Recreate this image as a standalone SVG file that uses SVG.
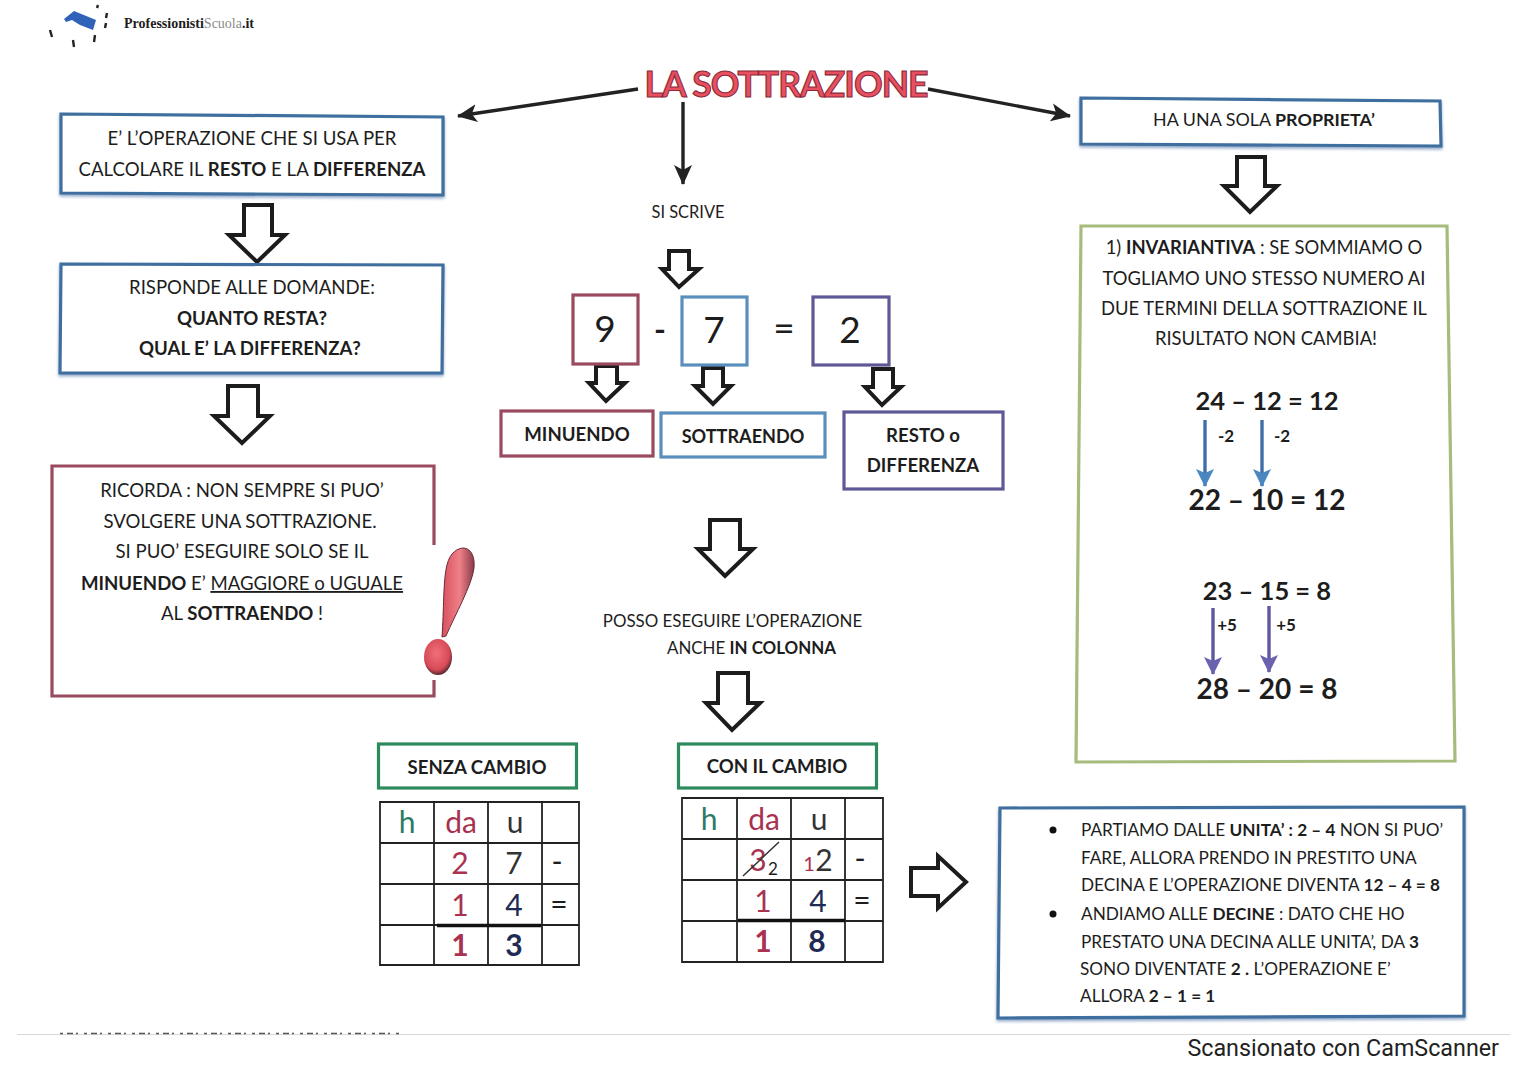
<svg xmlns="http://www.w3.org/2000/svg" width="1528" height="1080" viewBox="0 0 1528 1080">
<style>
text{font-family:Lato,"Open Sans",sans-serif;fill:#1d1d1d;font-size:18.6px;text-anchor:middle}
.l{text-anchor:start}
.b,tspan.b{font-weight:700}
.box{fill:#fff;stroke-width:3.2;stroke-linejoin:miter}
.blue{stroke:#3f6f9f;filter:drop-shadow(0 2px 1.5px rgba(60,100,160,.55))}.red{stroke:#9a4a5e}.green{stroke:#2c8a5c}.olive{stroke:#a6bb7c}.mb{stroke:#5a8fbd}.pur{stroke:#5f5896}
.hol{fill:#fff;stroke:#1c1c1c;stroke-width:4;stroke-linejoin:miter}
.grid{fill:none;stroke:#222;stroke-width:1.8}
.d{font-size:30px}.dr{fill:#a8324f}.dn{fill:#1f2a55}.dg{fill:#2d7a68}.dk{fill:#333}
.eq{font-size:25.5px;font-weight:700}
.eq2{font-size:28px;font-weight:700}
.sm{font-size:17px;font-weight:700}
.big{font-size:37px}
.t17{font-size:17.2px}
.con{fill:none;stroke:#222;stroke-width:3.4}
</style>
<defs>
<marker id="ah" markerUnits="userSpaceOnUse" markerWidth="22" markerHeight="20" refX="19" refY="10" orient="auto"><path d="M0 1L20 10L0 19L5 10Z" fill="#222"/></marker>
<marker id="ahb" markerUnits="userSpaceOnUse" markerWidth="20" markerHeight="24" refX="17" refY="10" orient="auto"><path d="M0 1L18 10L0 19L4 10Z" fill="#4a86c0"/></marker>
<marker id="ahp" markerUnits="userSpaceOnUse" markerWidth="20" markerHeight="24" refX="17" refY="10" orient="auto"><path d="M0 1L18 10L0 19L4 10Z" fill="#6a62ae"/></marker>
<linearGradient id="ex" x1="0" y1="0" x2="1" y2="0"><stop offset="0" stop-color="#d8505f"/><stop offset=".55" stop-color="#ee8088"/><stop offset="1" stop-color="#8a3a48"/></linearGradient>
<radialGradient id="ex2" cx=".45" cy=".4" r=".6"><stop offset="0" stop-color="#f07078"/><stop offset=".75" stop-color="#d84a58"/><stop offset="1" stop-color="#5a2a30"/></radialGradient>
</defs>
<rect width="1528" height="1080" fill="#fff"/>

<g id="logo">
<path d="M64 19L74 11L96 20L93 30L80 25L72 20L66 22Z" fill="#2f62b8"/>
<path d="M50 30l2 7M73 40l1 7M95 35l-1 7M107 13l-1 5M106 23l-1 5M98 5l-1 3" stroke="#222" stroke-width="2.4" fill="none"/>
<text x="124" y="28" class="l" style="font-family:'Liberation Serif',serif;font-size:14px;font-weight:700">Professionisti<tspan fill="#8a8a8a" font-weight="400">Scuola</tspan>.it</text>
</g>

<g id="title">
<text x="786" y="97" style="font-size:35.6px;font-weight:700;fill:#e8505f;stroke:#8a2a3a;stroke-width:1.1;letter-spacing:-1px">LA SOTTRAZIONE</text>
</g>

<g id="connectors">
<path class="con" d="M638 89L458 116" marker-end="url(#ah)"/>
<path class="con" d="M683 102V184" marker-end="url(#ah)"/>
<path class="con" d="M928 89L1070 116" marker-end="url(#ah)"/>
<path class="hol" d="M244 205H272V235H285L257 262L229 235H244Z"/>
<path class="hol" d="M228 386H258V416H270L242 443L214 416H228Z"/>
<path class="hol" d="M1237 157H1265V186H1277L1250 212L1224 186H1237Z"/>
<path class="hol" d="M669 251H689V269H699L679 287L662 269H669Z"/>
<path class="hol" d="M596 366H617V383H625L606 401L589 383H596Z"/>
<path class="hol" d="M703 368H723V386H731L713 404L695 386H703Z"/>
<path class="hol" d="M873 369H893V387H901L882 405L865 387H873Z"/>
<path class="hol" d="M710 520H740V549H753L725 576L698 549H710Z"/>
<path class="hol" d="M718 673H748V703H760L732 730L706 703H718Z"/>
<path class="hol" d="M911 868H938V856L966 882L938 908V896H911Z"/>
</g>

<g id="def">
<path class="box blue" d="M61 114L443 117V195L61 193Z"/>
<text x="252" y="145">E’ L’OPERAZIONE CHE SI USA PER</text>
<text x="252" y="176">CALCOLARE IL <tspan class="b">RESTO</tspan> E LA <tspan class="b">DIFFERENZA</tspan></text>
</g>
<g id="domande">
<path class="box blue" d="M61 264L443 265L442 373L60 373Z"/>
<text x="252" y="294">RISPONDE ALLE DOMANDE:</text>
<text x="252" y="325" class="b">QUANTO RESTA?</text>
<text x="250" y="355" class="b">QUAL E’ LA DIFFERENZA?</text>
</g>
<g id="ricorda">
<path class="box red" style="fill:none" d="M434 545V466H52V696H434V680"/>
<text x="242" y="497">RICORDA : NON SEMPRE SI PUO’</text>
<text x="240" y="528">SVOLGERE UNA SOTTRAZIONE.</text>
<text x="242" y="558">SI PUO’ ESEGUIRE SOLO SE IL</text>
<text x="242" y="590"><tspan class="b">MINUENDO</tspan> E’ <tspan text-decoration="underline">MAGGIORE o UGUALE</tspan></text>
<text x="242" y="620">AL <tspan class="b">SOTTRAENDO</tspan> !</text>
<path d="M442 637C444 610 443 580 447 565C450 552 458 548 464 548C472 549 475 558 474 568C472 585 455 615 446 636Z" fill="url(#ex)" stroke="#6a2a36" stroke-width="1"/>
<ellipse cx="438" cy="657" rx="14" ry="18" fill="url(#ex2)"/>
</g>

<g id="si-scrive"><text x="688" y="218" style="font-size:16.4px">SI SCRIVE</text></g>

<g id="n9"><rect class="box red" x="573" y="295" width="65" height="69"/><text x="605" y="342" class="big">9</text></g>
<text x="660" y="341" class="big" style="font-weight:700;font-size:32px">-</text>
<g id="n7"><rect class="box mb" x="682" y="297" width="65" height="68"/><text x="714" y="343" class="big">7</text></g>
<text x="784" y="341" class="big">=</text>
<g id="n2"><rect class="box pur" x="813" y="297" width="76" height="68"/><text x="850" y="343" class="big">2</text></g>

<g id="minuendo"><rect class="box red" x="501" y="411" width="152" height="45"/><text x="577" y="441" class="b">MINUENDO</text></g>
<g id="sottraendo"><rect class="box mb" x="661" y="413" width="164" height="44"/><text x="743" y="443" class="b" style="font-size:18.1px">SOTTRAENDO</text></g>
<g id="resto"><rect class="box pur" x="844" y="412" width="159" height="77"/><text x="923" y="442" class="b">RESTO o</text><text x="923" y="472" class="b">DIFFERENZA</text></g>

<g id="colonna">
<text x="732.500" y="627" style="font-size:16.9px">POSSO ESEGUIRE L’OPERAZIONE</text>
<text x="751.500" y="654" style="font-size:16.9px">ANCHE <tspan class="b">IN COLONNA</tspan></text>
</g>

<g id="senza"><rect class="box green" x="378.500" y="744" width="198" height="44"/><text x="477" y="774" class="b">SENZA CAMBIO</text></g>
<g id="con"><rect class="box green" x="678.500" y="744" width="198" height="44"/><text x="777" y="773" class="b">CON IL CAMBIO</text></g>

<g id="tabella1">
<path class="grid" d="M380 802H579V965H380ZM434 802V965M488 802V965M542 802V965M380 843H579M380 884H579M380 925H579"/>
<path d="M437 925.500H541" stroke="#111" stroke-width="3.500"/>
<text x="407" y="833" class="d dg">h</text><text x="461" y="833" class="d dr">da</text><text x="515" y="833" class="d dk">u</text>
<text x="460" y="874" class="d dr">2</text><text x="514" y="874" class="d dk">7</text><text x="557" y="872" class="d">-</text>
<text x="460" y="916" class="d dr">1</text><text x="514" y="916" class="d dn">4</text><text x="559" y="915" class="d">=</text>
<text x="460" y="956" class="d dr b">1</text><text x="514" y="956" class="d dn b">3</text>
</g>
<g id="tabella2">
<path class="grid" d="M682 798H883V962H682ZM737 798V962M791 798V962M845 798V962M682 839H883M682 880H883M682 921H883"/>
<path d="M738 920.500H845" stroke="#111" stroke-width="3.500"/>
<text x="709" y="830" class="d dg">h</text><text x="764" y="830" class="d dr">da</text><text x="819" y="830" class="d dk">u</text>
<text x="758" y="871" class="d dr">3</text><text x="773" y="875" style="font-size:17px">2</text>
<path d="M743 876L779 842" stroke="#333" stroke-width="1.500"/>
<text x="809" y="871" style="font-size:20px" class="dr">1</text><text x="824" y="871" class="d dk">2</text><text x="860" y="869" class="d">-</text>
<text x="763" y="912" class="d dr">1</text><text x="818" y="912" class="d dn">4</text><text x="862" y="911" class="d">=</text>
<text x="763" y="952" class="d dr b">1</text><text x="817" y="952" class="d dn b">8</text>
</g>

<g id="proprieta">
<path class="box blue" d="M1081 98L1440 101L1441 146L1081 144Z"/>
<text x="1264" y="126" style="font-size:17.9px">HA UNA SOLA <tspan class="b">PROPRIETA’</tspan></text>
</g>
<g id="invariantiva">
<path class="box olive" d="M1081 226H1447L1455 761L1076 762Z"/>
<text x="1264" y="254" style="font-size:18.4px">1) <tspan class="b">INVARIANTIVA</tspan> : SE SOMMIAMO O</text>
<text x="1264" y="285" style="font-size:18.4px">TOGLIAMO UNO STESSO NUMERO AI</text>
<text x="1264" y="315" style="font-size:18.4px">DUE TERMINI DELLA SOTTRAZIONE IL</text>
<text x="1266" y="345" style="font-size:18.4px">RISULTATO NON CAMBIA!</text>
<text x="1267" y="410" class="eq">24 – 12 = 12</text>
<text x="1226" y="442" class="sm">-2</text><text x="1282" y="442" class="sm">-2</text>
<text x="1267" y="510" class="eq2">22 – 10 = 12</text>
<text x="1267" y="600" class="eq">23 – 15 = 8</text>
<text x="1227" y="631" class="sm">+5</text><text x="1286" y="631" class="sm">+5</text>
<text x="1267" y="699" class="eq2">28 – 20 = 8</text>
</g>
<g id="math-connectors">
<path d="M1205 420V486" stroke="#3f6fa8" stroke-width="3.400" fill="none" marker-end="url(#ahb)"/>
<path d="M1262 420V486" stroke="#3f6fa8" stroke-width="3.400" fill="none" marker-end="url(#ahb)"/>
<path d="M1213 608V674" stroke="#5f58a0" stroke-width="3.400" fill="none" marker-end="url(#ahp)"/>
<path d="M1269 606V672" stroke="#5f58a0" stroke-width="3.400" fill="none" marker-end="url(#ahp)"/>
</g>

<g id="spiegazione">
<path class="box blue" d="M1000 808L1464 807V1016L998 1018Z"/>
<circle cx="1053" cy="830" r="3.500" fill="#111"/><circle cx="1053" cy="914" r="3.500" fill="#111"/>
<text x="1081" y="836" class="l t17">PARTIAMO DALLE <tspan class="b">UNITA’ : 2 – 4</tspan> NON SI PUO’</text>
<text x="1081" y="864" class="l t17">FARE, ALLORA PRENDO IN PRESTITO UNA</text>
<text x="1081" y="891" class="l t17">DECINA E L’OPERAZIONE DIVENTA <tspan class="b">12 – 4 = 8</tspan></text>
<text x="1081" y="920" class="l t17">ANDIAMO ALLE <tspan class="b">DECINE</tspan> : DATO CHE HO</text>
<text x="1081" y="948" class="l t17">PRESTATO UNA DECINA ALLE UNITA’, DA <tspan class="b">3</tspan></text>
<text x="1080" y="975" class="l t17">SONO DIVENTATE <tspan class="b">2 .</tspan> L’OPERAZIONE E’</text>
<text x="1080" y="1002" class="l t17">ALLORA <tspan class="b">2 – 1 = 1</tspan></text>
</g>

<g id="footer">
<path d="M17 1034.500H1510" stroke="#d8d8d8" stroke-width="1"/>
<path d="M60 1033.500H400" stroke="#555" stroke-width="1.500" stroke-dasharray="3 4 6 3 2 6"/>
<text x="1499" y="1056" style="font-family:Roboto,sans-serif;font-size:23.300px;text-anchor:end;fill:#222">Scansionato con CamScanner</text>
</g>
</svg>
